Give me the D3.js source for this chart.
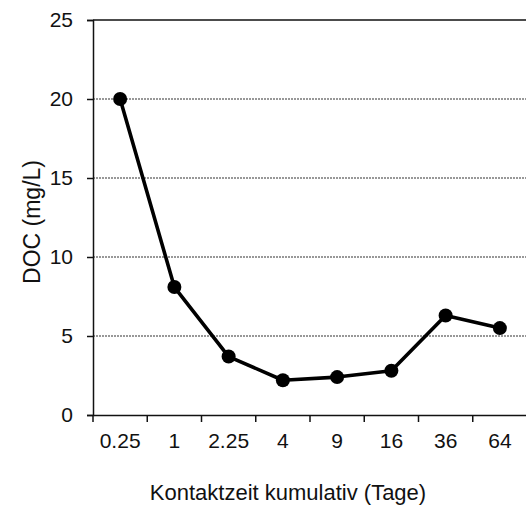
<!DOCTYPE html>
<html><head><meta charset="utf-8">
<script src="https://cdn.jsdelivr.net/npm/d3@7"></script>
<style>body{margin:0;background:#fff}svg{display:block}text{font-family:"Liberation Sans",Arial,sans-serif;fill:#111}</style>
</head><body><svg id="c" width="526" height="505"></svg>
<script>
const categories = ["0.25","1","2.25","4","9","16","36","64"];
const docValues = [20.0, 8.1, 3.7, 2.2, 2.4, 2.8, 6.3, 5.5];
const yTicks = [0,5,10,15,20,25];

const svg = d3.select("#c");
const m = {left:93, top:20, right:-1, bottom:90};
const W = 526, H = 505;
const x = d3.scaleBand().domain(categories).range([m.left, W - m.right]);
const y = d3.scaleLinear().domain([0,25]).range([415, m.top]);

// gridlines
svg.append("g").selectAll("line").data(yTicks.filter(d=>d>0 && d<25)).join("line")
  .attr("x1", m.left).attr("x2", W).attr("y1", d=>y(d)).attr("y2", d=>y(d))
  .attr("stroke","#777").attr("stroke-width",1.3).attr("stroke-dasharray","2,1");
svg.append("line").attr("x1", m.left).attr("x2", W).attr("y1", y(25)).attr("y2", y(25))
  .attr("stroke","#111").attr("stroke-width",1.5);

// y axis
const ya = svg.append("g").attr("transform",`translate(${m.left},0)`)
  .call(d3.axisLeft(y).tickValues(yTicks).tickSize(6).tickPadding(14));
ya.select(".domain").attr("stroke","#111").attr("stroke-width",1.5);
ya.selectAll(".tick line").attr("stroke","#111").attr("stroke-width",1.5);
ya.selectAll("text").attr("font-size",21).attr("font-family","Liberation Sans, Arial, sans-serif").attr("fill","#111");

// x axis
const xa = svg.append("g").attr("transform",`translate(0,${y(0)})`)
  .call(d3.axisBottom(x).tickSize(0).tickPadding(18));
xa.select(".domain").attr("stroke","#111").attr("stroke-width",1.5);
xa.selectAll("text").attr("font-size",21).attr("font-family","Liberation Sans, Arial, sans-serif").attr("fill","#111");
// ticks at band boundaries
svg.append("g").selectAll("line").data(categories).join("line")
  .attr("x1", d=>x(d)).attr("x2", d=>x(d)).attr("y1", y(0)).attr("y2", y(0)+7)
  .attr("stroke","#111").attr("stroke-width",1.5);

// line
const cx = d => x(d) + x.bandwidth()/2;
const data = categories.map((c,i)=>({c, v: docValues[i]}));
svg.append("path").datum(data)
  .attr("fill","none").attr("stroke","#000").attr("stroke-width",3.6).attr("stroke-linejoin","round")
  .attr("d", d3.line().x(d=>cx(d.c)).y(d=>y(d.v)));
svg.append("g").selectAll("circle").data(data).join("circle")
  .attr("cx", d=>cx(d.c)).attr("cy", d=>y(d.v)).attr("r",7).attr("fill","#000");

// titles
svg.append("text").attr("x", 288).attr("y", 500).attr("text-anchor","middle")
  .attr("font-size",22).text("Kontaktzeit kumulativ (Tage)");
svg.append("text").attr("transform",`translate(40,222) rotate(-90)`)
  .attr("text-anchor","middle").attr("font-size",23).text("DOC (mg/L)");
</script></body></html>
